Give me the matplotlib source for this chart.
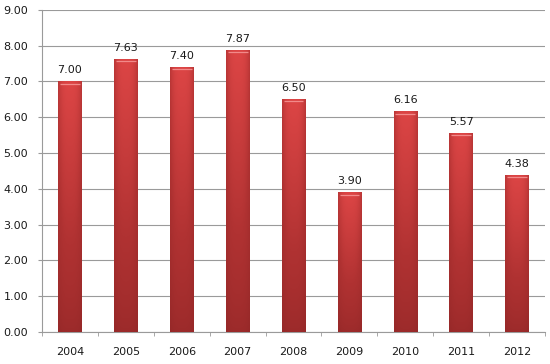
import numpy as np
import matplotlib.pyplot as plt
from matplotlib.colors import LinearSegmentedColormap

years = ['2004', '2005', '2006', '2007', '2008', '2009', '2010', '2011', '2012']
values = [7.00, 7.63, 7.40, 7.87, 6.50, 3.90, 6.16, 5.57, 4.38]

fig = plt.figure(figsize=(5.5, 3.64), dpi=100)
ax = fig.add_axes([0.0764, 0.088, 0.9146, 0.885])

x = np.arange(len(years))
bars = ax.bar(x, values, width=0.42, color='none', edgecolor='none', zorder=3)

# shaded fill: lighter at top, darker at bottom and towards the edges
cmap = LinearSegmentedColormap.from_list('redbar', ['#952828', '#b03232', '#dc4545'])
h = np.linspace(-1, 1, 40)
side = 1 - 0.3 * np.abs(h) ** 3
for b in bars:
    x0, w, ht = b.get_x(), b.get_width(), b.get_height()
    v = np.linspace(0, 1, 200)[:, None]
    vert = 0.3 + 0.7 * v ** 0.8
    img = vert * side[None, :]
    im = ax.imshow(img, cmap=cmap, vmin=0.2, vmax=1.0, origin='lower',
                   extent=[x0, x0 + w, 0, ht], aspect='auto', zorder=3,
                   interpolation='bilinear')
    im.set_clip_path(b)
    # light rim at the top of each bar
    ax.plot([x0 + w * 0.08, x0 + w * 0.92], [ht - 0.06, ht - 0.06],
            color='#f28a8a', lw=0.9, zorder=4, solid_capstyle='butt')
    ax.text(x0 + w / 2, ht + 0.17, f'{ht:.2f}', ha='center', va='bottom',
            fontsize=8, color='#1a1a1a', zorder=5)

ax.set_xlim(-0.5, len(years) - 0.5)
ax.set_ylim(0, 9)
ax.set_yticks(np.arange(0, 10, 1))
ax.set_yticklabels([f'{t:.2f}' for t in np.arange(0, 10, 1)])
ax.set_xticks(x)
ax.set_xticklabels(years)
ax.set_xticks(np.arange(-0.5, len(years), 1), minor=True)

ax.grid(axis='y', color='#9a9a9a', lw=0.8, zorder=1)
for s in ['top', 'right']:
    ax.spines[s].set_visible(False)
ax.spines['left'].set_color('#9a9a9a')
ax.spines['bottom'].set_color('#9a9a9a')
ax.tick_params(axis='y', length=3, color='#9a9a9a', labelsize=8, labelcolor='#1a1a1a', pad=7)
ax.tick_params(axis='x', which='major', length=0, labelsize=8, labelcolor='#1a1a1a', pad=11)
ax.tick_params(axis='x', which='minor', length=3, color='#9a9a9a')

fig.savefig('out.png', dpi=100)
